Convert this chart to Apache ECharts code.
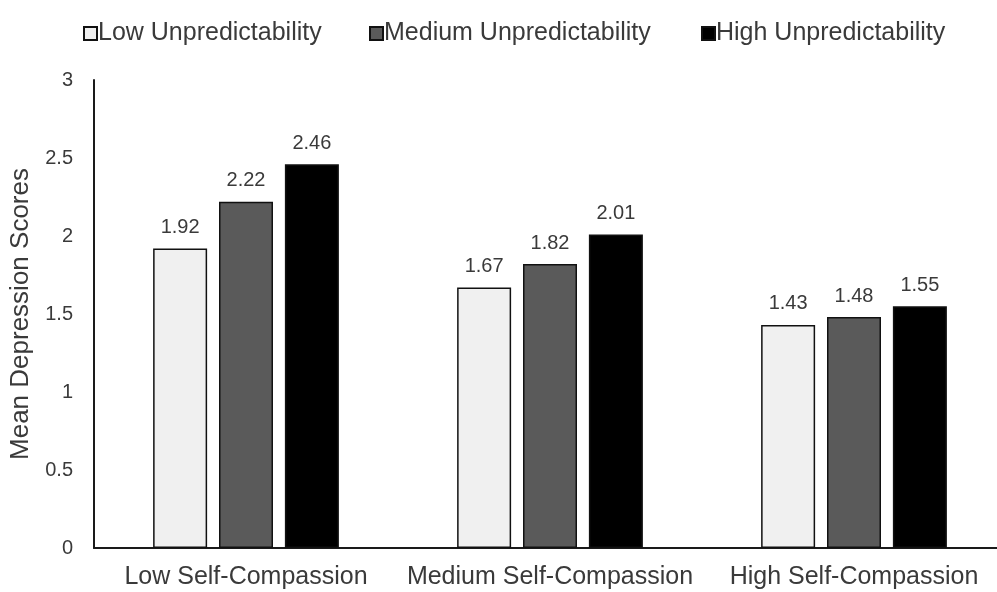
<!DOCTYPE html>
<html>
<head>
<meta charset="utf-8">
<script src="https://cdn.jsdelivr.net/npm/echarts@6/dist/echarts.min.js"></script>
<style>html,body{margin:0;padding:0;background:#fff;overflow:hidden}#c{width:1006px;height:592px}</style>
</head>
<body>
<div id="c"></div>
<script>
const categories = ['Low Self-Compassion', 'Medium Self-Compassion', 'High Self-Compassion'];
const seriesNames = ['Low Unpredictability', 'Medium Unpredictability', 'High Unpredictability'];
const lowValues = [1.92, 1.67, 1.43];
const mediumValues = [2.22, 1.82, 1.48];
const highValues = [2.46, 2.01, 1.55];
const yTicks = [0, 0.5, 1, 1.5, 2, 2.5, 3];

const FONT = '"Liberation Sans", Arial, sans-serif';
const TXT = '#3a3a3a';
const fills = ['#f0f0f0', '#5a5a5a', '#000000'];
const allValues = [lowValues, mediumValues, highValues];

const chart = echarts.init(document.getElementById('c'), null, {renderer: 'canvas'});

const legendLefts = [78, 364, 696];
const legends = seriesNames.map((n, i) => ({
  data: [n],
  left: legendLefts[i],
  top: 16,
  icon: 'rect',
  itemWidth: 13,
  itemHeight: 13,
  itemGap: 0,
  textStyle: {fontFamily: FONT, fontSize: 25, color: TXT, padding: [0, 0, 0, -4]}
}));

chart.setOption({
  animation: false,
  backgroundColor: '#fff',
  legend: legends,
  grid: {left: 94, top: 80, right: 0, height: 468, containLabel: false},
  xAxis: {
    type: 'category',
    data: categories,
    axisLine: {show: true, lineStyle: {color: '#1a1a1a', width: 2}},
    axisTick: {show: false},
    axisLabel: {interval: 0, fontFamily: FONT, fontSize: 25, color: TXT, margin: 17}
  },
  yAxis: {
    type: 'value',
    min: 0, max: 3, interval: 0.5,
    name: 'Mean Depression Scores',
    nameLocation: 'middle',
    nameGap: 53,
    nameTextStyle: {fontFamily: FONT, fontSize: 26, color: TXT},
    axisLine: {show: true, lineStyle: {color: '#1a1a1a', width: 2}},
    axisTick: {show: false},
    splitLine: {show: false},
    axisLabel: {
      fontFamily: FONT, fontSize: 20, color: TXT, margin: 21,
      formatter: v => yTicks.includes(v) ? String(v) : ''
    }
  },
  series: seriesNames.map((n, i) => ({
    name: n,
    type: 'bar',
    data: allValues[i],
    barWidth: 54,
    barGap: '22%',
    itemStyle: {color: fills[i], borderColor: '#111', borderWidth: 1.5},
    label: {
      show: true, position: 'top', distance: 11,
      fontFamily: FONT, fontSize: 20, color: TXT,
      formatter: p => p.value.toFixed(2)
    }
  }))
});
</script>
</body>
</html>
